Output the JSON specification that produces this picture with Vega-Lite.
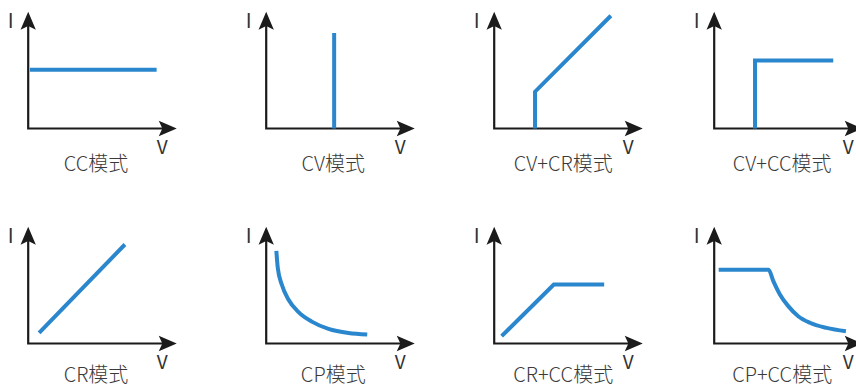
{
  "$schema": "https://vega.github.io/schema/vega-lite/v6.json",
  "padding": 0,
  "spacing": 0,
  "bounds": "full",
  "config": {"view": {"stroke": null}},
  "datasets": {
    "axes": [
      {"o": 0, "v": 0, "i": 7.5},
      {"o": 1, "v": 0, "i": 0},
      {"o": 2, "v": 9.5, "i": 0}
    ],
    "arrows": [
      {"v": 0, "i": 8.0, "a": 0},
      {"v": 9.97, "i": 0, "a": 90}
    ],
    "labels": [
      {"t": "I", "v": -1.17, "i": 7.3, "s": 20},
      {"t": "V", "v": 9.0, "i": -1.33, "s": 19}
    ],
    "captions": [
      {"mode": "CC模式", "v": 4.55, "i": -2.5},
      {"mode": "CV模式", "v": 4.5, "i": -2.5},
      {"mode": "CV+CR模式", "v": 4.63, "i": -2.5},
      {"mode": "CV+CC模式", "v": 4.56, "i": -2.5},
      {"mode": "CR模式", "v": 4.55, "i": -2.2},
      {"mode": "CP模式", "v": 4.5, "i": -2.2},
      {"mode": "CR+CC模式", "v": 4.63, "i": -2.2},
      {"mode": "CP+CC模式", "v": 4.56, "i": -2.2}
    ],
    "curves": [
      {"mode": "CC模式", "o": 0, "v": 0.11, "i": 4.02},
      {"mode": "CC模式", "o": 1, "v": 8.62, "i": 4.02},
      {"mode": "CV模式", "o": 0, "v": 4.56, "i": 0},
      {"mode": "CV模式", "o": 1, "v": 4.56, "i": 6.54},
      {"mode": "CV+CR模式", "o": 0, "v": 2.74, "i": 0},
      {"mode": "CV+CR模式", "o": 1, "v": 2.74, "i": 2.52},
      {"mode": "CV+CR模式", "o": 2, "v": 7.83, "i": 7.72},
      {"mode": "CV+CC模式", "o": 0, "v": 2.74, "i": 0},
      {"mode": "CV+CC模式", "o": 1, "v": 2.74, "i": 4.65},
      {"mode": "CV+CC模式", "o": 2, "v": 7.99, "i": 4.65},
      {"mode": "CR模式", "o": 0, "v": 0.73, "i": 0.73},
      {"mode": "CR模式", "o": 1, "v": 6.49, "i": 6.78},
      {"mode": "CP模式", "o": 0, "v": 0.68, "i": 6.35},
      {"mode": "CP模式", "o": 1, "v": 0.78, "i": 5.15},
      {"mode": "CP模式", "o": 2, "v": 1.05, "i": 4.02},
      {"mode": "CP模式", "o": 3, "v": 1.5, "i": 3.0},
      {"mode": "CP模式", "o": 4, "v": 2.17, "i": 2.15},
      {"mode": "CP模式", "o": 5, "v": 3.06, "i": 1.5},
      {"mode": "CP模式", "o": 6, "v": 4.18, "i": 1.0},
      {"mode": "CP模式", "o": 7, "v": 5.52, "i": 0.72},
      {"mode": "CP模式", "o": 8, "v": 6.78, "i": 0.62},
      {"mode": "CR+CC模式", "o": 0, "v": 0.5, "i": 0.5},
      {"mode": "CR+CC模式", "o": 1, "v": 4.0, "i": 4.04},
      {"mode": "CR+CC模式", "o": 2, "v": 7.38, "i": 4.04},
      {"mode": "CP+CC模式", "o": 0, "v": 0.3, "i": 5.05},
      {"mode": "CP+CC模式", "o": 1, "v": 2.0, "i": 5.05},
      {"mode": "CP+CC模式", "o": 2, "v": 3.65, "i": 5.05},
      {"mode": "CP+CC模式", "o": 3, "v": 3.97, "i": 4.27},
      {"mode": "CP+CC模式", "o": 4, "v": 4.41, "i": 3.36},
      {"mode": "CP+CC模式", "o": 5, "v": 4.97, "i": 2.56},
      {"mode": "CP+CC模式", "o": 6, "v": 5.64, "i": 1.87},
      {"mode": "CP+CC模式", "o": 7, "v": 6.42, "i": 1.42},
      {"mode": "CP+CC模式", "o": 8, "v": 7.54, "i": 1.07},
      {"mode": "CP+CC模式", "o": 9, "v": 8.84, "i": 0.84}
    ]
  },
  "vconcat": [
    {
      "spacing": 0,
      "bounds": "flush",
      "hconcat": [
        {
          "width": 238, "height": 215,
          "encoding": {
            "x": {"field": "v", "type": "quantitative", "scale": {"domain": [-1.893, 14.081], "zero": false, "nice": false}, "axis": null},
            "y": {"field": "i", "type": "quantitative", "scale": {"domain": [-5.925, 8.801], "zero": false, "nice": false}, "axis": null}
          },
          "layer": [
            {"data": {"name": "axes"}, "mark": {"type": "line", "color": "#1b1b1b", "strokeWidth": 2.2, "clip": true, "strokeJoin": "miter"}, "encoding": {"order": {"field": "o", "type": "quantitative"}}},
            {"data": {"name": "arrows"}, "mark": {"type": "point", "shape": "M0,0L0.85,2L0,1.6L-0.85,2Z", "size": 324, "filled": true, "opacity": 1, "color": "#1b1b1b", "strokeWidth": 0, "clip": true}, "encoding": {"angle": {"field": "a", "type": "quantitative", "scale": null}}},
            {"data": {"name": "curves"}, "transform": [{"filter": "datum.mode === 'CC模式'"}], "mark": {"type": "line", "color": "#2b87cd", "strokeWidth": 4, "strokeJoin": "miter"}, "encoding": {"order": {"field": "o", "type": "quantitative"}}},
            {"data": {"name": "labels"}, "mark": {"type": "text", "font": "Noto Sans CJK SC", "fontWeight": 400, "color": "#333333", "baseline": "middle", "align": "center"}, "encoding": {"text": {"field": "t"}, "size": {"field": "s", "type": "quantitative", "scale": null}}},
            {"data": {"name": "captions"}, "transform": [{"filter": "datum.mode === 'CC模式'"}], "mark": {"type": "text", "font": "Noto Sans CJK SC", "fontWeight": 300, "fontSize": 20, "color": "#3a3a3a", "baseline": "middle", "align": "center"}, "encoding": {"text": {"field": "mode"}}}
          ]
        },
        {
          "width": 228, "height": 215,
          "encoding": {
            "x": {"field": "v", "type": "quantitative", "scale": {"domain": [-1.893, 13.409], "zero": false, "nice": false}, "axis": null},
            "y": {"field": "i", "type": "quantitative", "scale": {"domain": [-5.925, 8.801], "zero": false, "nice": false}, "axis": null}
          },
          "layer": [
            {"data": {"name": "axes"}, "mark": {"type": "line", "color": "#1b1b1b", "strokeWidth": 2.2, "clip": true, "strokeJoin": "miter"}, "encoding": {"order": {"field": "o", "type": "quantitative"}}},
            {"data": {"name": "arrows"}, "mark": {"type": "point", "shape": "M0,0L0.85,2L0,1.6L-0.85,2Z", "size": 324, "filled": true, "opacity": 1, "color": "#1b1b1b", "strokeWidth": 0, "clip": true}, "encoding": {"angle": {"field": "a", "type": "quantitative", "scale": null}}},
            {"data": {"name": "curves"}, "transform": [{"filter": "datum.mode === 'CV模式'"}], "mark": {"type": "line", "color": "#2b87cd", "strokeWidth": 4, "strokeJoin": "miter"}, "encoding": {"order": {"field": "o", "type": "quantitative"}}},
            {"data": {"name": "labels"}, "mark": {"type": "text", "font": "Noto Sans CJK SC", "fontWeight": 400, "color": "#333333", "baseline": "middle", "align": "center"}, "encoding": {"text": {"field": "t"}, "size": {"field": "s", "type": "quantitative", "scale": null}}},
            {"data": {"name": "captions"}, "transform": [{"filter": "datum.mode === 'CV模式'"}], "mark": {"type": "text", "font": "Noto Sans CJK SC", "fontWeight": 300, "fontSize": 20, "color": "#3a3a3a", "baseline": "middle", "align": "center"}, "encoding": {"text": {"field": "mode"}}}
          ]
        },
        {
          "width": 220, "height": 215,
          "encoding": {
            "x": {"field": "v", "type": "quantitative", "scale": {"domain": [-1.893, 12.872], "zero": false, "nice": false}, "axis": null},
            "y": {"field": "i", "type": "quantitative", "scale": {"domain": [-5.925, 8.801], "zero": false, "nice": false}, "axis": null}
          },
          "layer": [
            {"data": {"name": "axes"}, "mark": {"type": "line", "color": "#1b1b1b", "strokeWidth": 2.2, "clip": true, "strokeJoin": "miter"}, "encoding": {"order": {"field": "o", "type": "quantitative"}}},
            {"data": {"name": "arrows"}, "mark": {"type": "point", "shape": "M0,0L0.85,2L0,1.6L-0.85,2Z", "size": 324, "filled": true, "opacity": 1, "color": "#1b1b1b", "strokeWidth": 0, "clip": true}, "encoding": {"angle": {"field": "a", "type": "quantitative", "scale": null}}},
            {"data": {"name": "curves"}, "transform": [{"filter": "datum.mode === 'CV+CR模式'"}], "mark": {"type": "line", "color": "#2b87cd", "strokeWidth": 4, "strokeJoin": "miter"}, "encoding": {"order": {"field": "o", "type": "quantitative"}}},
            {"data": {"name": "labels"}, "mark": {"type": "text", "font": "Noto Sans CJK SC", "fontWeight": 400, "color": "#333333", "baseline": "middle", "align": "center"}, "encoding": {"text": {"field": "t"}, "size": {"field": "s", "type": "quantitative", "scale": null}}},
            {"data": {"name": "captions"}, "transform": [{"filter": "datum.mode === 'CV+CR模式'"}], "mark": {"type": "text", "font": "Noto Sans CJK SC", "fontWeight": 300, "fontSize": 20, "color": "#3a3a3a", "baseline": "middle", "align": "center"}, "encoding": {"text": {"field": "mode"}}}
          ]
        },
        {
          "width": 170, "height": 215,
          "encoding": {
            "x": {"field": "v", "type": "quantitative", "scale": {"domain": [-1.893, 9.517], "zero": false, "nice": false}, "axis": null},
            "y": {"field": "i", "type": "quantitative", "scale": {"domain": [-5.925, 8.801], "zero": false, "nice": false}, "axis": null}
          },
          "layer": [
            {"data": {"name": "axes"}, "mark": {"type": "line", "color": "#1b1b1b", "strokeWidth": 2.2, "clip": true, "strokeJoin": "miter"}, "encoding": {"order": {"field": "o", "type": "quantitative"}}},
            {"data": {"name": "arrows"}, "mark": {"type": "point", "shape": "M0,0L0.85,2L0,1.6L-0.85,2Z", "size": 324, "filled": true, "opacity": 1, "color": "#1b1b1b", "strokeWidth": 0, "clip": true}, "encoding": {"angle": {"field": "a", "type": "quantitative", "scale": null}}},
            {"data": {"name": "curves"}, "transform": [{"filter": "datum.mode === 'CV+CC模式'"}], "mark": {"type": "line", "color": "#2b87cd", "strokeWidth": 4, "strokeJoin": "miter"}, "encoding": {"order": {"field": "o", "type": "quantitative"}}},
            {"data": {"name": "labels"}, "mark": {"type": "text", "font": "Noto Sans CJK SC", "fontWeight": 400, "color": "#333333", "baseline": "middle", "align": "center"}, "encoding": {"text": {"field": "t"}, "size": {"field": "s", "type": "quantitative", "scale": null}}},
            {"data": {"name": "captions"}, "transform": [{"filter": "datum.mode === 'CV+CC模式'"}], "mark": {"type": "text", "font": "Noto Sans CJK SC", "fontWeight": 300, "fontSize": 20, "color": "#3a3a3a", "baseline": "middle", "align": "center"}, "encoding": {"text": {"field": "mode"}}}
          ]
        }
      ]
    },
    {
      "spacing": 0,
      "bounds": "flush",
      "hconcat": [
        {
          "width": 238, "height": 172,
          "encoding": {
            "x": {"field": "v", "type": "quantitative", "scale": {"domain": [-1.893, 14.081], "zero": false, "nice": false}, "axis": null},
            "y": {"field": "i", "type": "quantitative", "scale": {"domain": [-2.979, 8.801], "zero": false, "nice": false}, "axis": null}
          },
          "layer": [
            {"data": {"name": "axes"}, "mark": {"type": "line", "color": "#1b1b1b", "strokeWidth": 2.2, "clip": true, "strokeJoin": "miter"}, "encoding": {"order": {"field": "o", "type": "quantitative"}}},
            {"data": {"name": "arrows"}, "mark": {"type": "point", "shape": "M0,0L0.85,2L0,1.6L-0.85,2Z", "size": 324, "filled": true, "opacity": 1, "color": "#1b1b1b", "strokeWidth": 0, "clip": true}, "encoding": {"angle": {"field": "a", "type": "quantitative", "scale": null}}},
            {"data": {"name": "curves"}, "transform": [{"filter": "datum.mode === 'CR模式'"}], "mark": {"type": "line", "color": "#2b87cd", "strokeWidth": 4, "strokeJoin": "miter"}, "encoding": {"order": {"field": "o", "type": "quantitative"}}},
            {"data": {"name": "labels"}, "mark": {"type": "text", "font": "Noto Sans CJK SC", "fontWeight": 400, "color": "#333333", "baseline": "middle", "align": "center"}, "encoding": {"text": {"field": "t"}, "size": {"field": "s", "type": "quantitative", "scale": null}}},
            {"data": {"name": "captions"}, "transform": [{"filter": "datum.mode === 'CR模式'"}], "mark": {"type": "text", "font": "Noto Sans CJK SC", "fontWeight": 300, "fontSize": 20, "color": "#3a3a3a", "baseline": "middle", "align": "center"}, "encoding": {"text": {"field": "mode"}}}
          ]
        },
        {
          "width": 228, "height": 172,
          "encoding": {
            "x": {"field": "v", "type": "quantitative", "scale": {"domain": [-1.893, 13.409], "zero": false, "nice": false}, "axis": null},
            "y": {"field": "i", "type": "quantitative", "scale": {"domain": [-2.979, 8.801], "zero": false, "nice": false}, "axis": null}
          },
          "layer": [
            {"data": {"name": "axes"}, "mark": {"type": "line", "color": "#1b1b1b", "strokeWidth": 2.2, "clip": true, "strokeJoin": "miter"}, "encoding": {"order": {"field": "o", "type": "quantitative"}}},
            {"data": {"name": "arrows"}, "mark": {"type": "point", "shape": "M0,0L0.85,2L0,1.6L-0.85,2Z", "size": 324, "filled": true, "opacity": 1, "color": "#1b1b1b", "strokeWidth": 0, "clip": true}, "encoding": {"angle": {"field": "a", "type": "quantitative", "scale": null}}},
            {"data": {"name": "curves"}, "transform": [{"filter": "datum.mode === 'CP模式'"}], "mark": {"type": "line", "color": "#2b87cd", "strokeWidth": 4, "interpolate": "monotone"}, "encoding": {"order": {"field": "o", "type": "quantitative"}}},
            {"data": {"name": "labels"}, "mark": {"type": "text", "font": "Noto Sans CJK SC", "fontWeight": 400, "color": "#333333", "baseline": "middle", "align": "center"}, "encoding": {"text": {"field": "t"}, "size": {"field": "s", "type": "quantitative", "scale": null}}},
            {"data": {"name": "captions"}, "transform": [{"filter": "datum.mode === 'CP模式'"}], "mark": {"type": "text", "font": "Noto Sans CJK SC", "fontWeight": 300, "fontSize": 20, "color": "#3a3a3a", "baseline": "middle", "align": "center"}, "encoding": {"text": {"field": "mode"}}}
          ]
        },
        {
          "width": 220, "height": 172,
          "encoding": {
            "x": {"field": "v", "type": "quantitative", "scale": {"domain": [-1.893, 12.872], "zero": false, "nice": false}, "axis": null},
            "y": {"field": "i", "type": "quantitative", "scale": {"domain": [-2.979, 8.801], "zero": false, "nice": false}, "axis": null}
          },
          "layer": [
            {"data": {"name": "axes"}, "mark": {"type": "line", "color": "#1b1b1b", "strokeWidth": 2.2, "clip": true, "strokeJoin": "miter"}, "encoding": {"order": {"field": "o", "type": "quantitative"}}},
            {"data": {"name": "arrows"}, "mark": {"type": "point", "shape": "M0,0L0.85,2L0,1.6L-0.85,2Z", "size": 324, "filled": true, "opacity": 1, "color": "#1b1b1b", "strokeWidth": 0, "clip": true}, "encoding": {"angle": {"field": "a", "type": "quantitative", "scale": null}}},
            {"data": {"name": "curves"}, "transform": [{"filter": "datum.mode === 'CR+CC模式'"}], "mark": {"type": "line", "color": "#2b87cd", "strokeWidth": 4, "strokeJoin": "miter"}, "encoding": {"order": {"field": "o", "type": "quantitative"}}},
            {"data": {"name": "labels"}, "mark": {"type": "text", "font": "Noto Sans CJK SC", "fontWeight": 400, "color": "#333333", "baseline": "middle", "align": "center"}, "encoding": {"text": {"field": "t"}, "size": {"field": "s", "type": "quantitative", "scale": null}}},
            {"data": {"name": "captions"}, "transform": [{"filter": "datum.mode === 'CR+CC模式'"}], "mark": {"type": "text", "font": "Noto Sans CJK SC", "fontWeight": 300, "fontSize": 20, "color": "#3a3a3a", "baseline": "middle", "align": "center"}, "encoding": {"text": {"field": "mode"}}}
          ]
        },
        {
          "width": 170, "height": 172,
          "encoding": {
            "x": {"field": "v", "type": "quantitative", "scale": {"domain": [-1.893, 9.517], "zero": false, "nice": false}, "axis": null},
            "y": {"field": "i", "type": "quantitative", "scale": {"domain": [-2.979, 8.801], "zero": false, "nice": false}, "axis": null}
          },
          "layer": [
            {"data": {"name": "axes"}, "mark": {"type": "line", "color": "#1b1b1b", "strokeWidth": 2.2, "clip": true, "strokeJoin": "miter"}, "encoding": {"order": {"field": "o", "type": "quantitative"}}},
            {"data": {"name": "arrows"}, "mark": {"type": "point", "shape": "M0,0L0.85,2L0,1.6L-0.85,2Z", "size": 324, "filled": true, "opacity": 1, "color": "#1b1b1b", "strokeWidth": 0, "clip": true}, "encoding": {"angle": {"field": "a", "type": "quantitative", "scale": null}}},
            {"data": {"name": "curves"}, "transform": [{"filter": "datum.mode === 'CP+CC模式'"}], "mark": {"type": "line", "color": "#2b87cd", "strokeWidth": 4, "interpolate": "monotone"}, "encoding": {"order": {"field": "o", "type": "quantitative"}}},
            {"data": {"name": "labels"}, "mark": {"type": "text", "font": "Noto Sans CJK SC", "fontWeight": 400, "color": "#333333", "baseline": "middle", "align": "center"}, "encoding": {"text": {"field": "t"}, "size": {"field": "s", "type": "quantitative", "scale": null}}},
            {"data": {"name": "captions"}, "transform": [{"filter": "datum.mode === 'CP+CC模式'"}], "mark": {"type": "text", "font": "Noto Sans CJK SC", "fontWeight": 300, "fontSize": 20, "color": "#3a3a3a", "baseline": "middle", "align": "center"}, "encoding": {"text": {"field": "mode"}}}
          ]
        }
      ]
    }
  ]
}
